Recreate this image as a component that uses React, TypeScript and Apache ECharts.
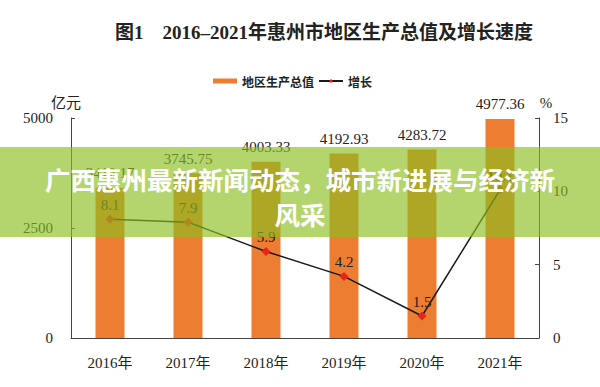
import React, { useEffect, useRef } from "react";
import * as echarts from "echarts";

const categories = ["2016年", "2017年", "2018年", "2019年", "2020年", "2021年"];
const gdpValues = [3412.17, 3745.75, 4003.33, 4192.93, 4283.72, 4977.36];
const growthValues = [8.1, 7.9, 5.9, 4.2, 1.5, 10.1];
const gdpTicks = [0, 2500, 5000];
const growthTicks = [0, 5, 10, 15];
const titleText = "图1　2016–2021年惠州市地区生产总值及增长速度";
const bannerLine1 = "广西惠州最新新闻动态，城市新进展与经济新";
const bannerLine2 = "风采";

const SERIF = "'Liberation Serif', 'DejaVu Serif', 'Noto Sans CJK SC', serif";
const CJK = "'Noto Sans CJK SC', sans-serif";

export default function App() {
  const ref = useRef<HTMLDivElement>(null);
  useEffect(() => {
    if (!ref.current) return;
    const chart = echarts.init(ref.current, null, { renderer: "svg" });
    chart.setOption({
      animation: false,
      backgroundColor: "#ffffff",
      title: {
        text: titleText,
        left: 319,
        textAlign: "center",
        top: 18,
        textStyle: { fontFamily: SERIF, fontSize: 19, fontWeight: "bold", color: "#222" },
      },
      legend: {
        top: 70,
        left: 208,
        itemGap: 4,
        itemWidth: 24,
        itemHeight: 5,
        textStyle: { fontFamily: CJK, fontSize: 12, fontWeight: "bold", color: "#222" },
        data: [
          { name: "地区生产总值", icon: "rect" },
          { name: "增长" },
        ],
      },
      grid: { left: 71, right: 61, top: 118, bottom: 49 },
      xAxis: {
        type: "category",
        data: categories,
        boundaryGap: true,
        axisLine: { lineStyle: { color: "#444", width: 1 } },
        axisTick: { inside: true, length: 5, lineStyle: { color: "#444" } },
        axisLabel: { fontFamily: SERIF, fontSize: 15, color: "#222", margin: 17 },
      },
      yAxis: [
        {
          type: "value",
          min: gdpTicks[0],
          max: gdpTicks[gdpTicks.length - 1],
          interval: gdpTicks[1] - gdpTicks[0],
          name: "亿元",
          nameGap: 8,
          nameTextStyle: { fontFamily: SERIF, fontSize: 15, color: "#222", padding: [0, 10, 0, 0] },
          axisLine: { show: true, lineStyle: { color: "#444" } },
          axisTick: { show: true, inside: true, length: 4, lineStyle: { color: "#444" } },
          axisLabel: {
            fontFamily: SERIF,
            fontSize: 15,
            color: "#222",
            margin: 18,
            formatter: (v: number) => String(v),
          },
          splitLine: { show: false },
        },
        {
          type: "value",
          min: growthTicks[0],
          max: growthTicks[growthTicks.length - 1],
          interval: growthTicks[1] - growthTicks[0],
          name: "%",
          nameGap: 6,
          nameTextStyle: { fontFamily: SERIF, fontSize: 15, color: "#222", padding: [0, 0, 0, 14] },
          axisLine: { show: true, lineStyle: { color: "#444" } },
          axisTick: { show: true, inside: true, length: 4, lineStyle: { color: "#444" } },
          axisLabel: {
            fontFamily: SERIF,
            fontSize: 15,
            color: "#222",
            margin: 14,
            formatter: (v: number) => String(v),
          },
          splitLine: { show: false },
        },
      ],
      series: [
        {
          name: "地区生产总值",
          type: "bar",
          data: gdpValues,
          barWidth: 29,
          itemStyle: { color: "#ED7D31" },
          label: {
            show: true,
            position: "top",
            distance: 7,
            fontFamily: SERIF,
            fontSize: 15,
            color: "#222",
            formatter: (p: any) => Number(p.value).toFixed(2),
          },
        },
        {
          name: "增长",
          type: "line",
          yAxisIndex: 1,
          data: growthValues,
          symbol: "diamond",
          symbolSize: 9,
          itemStyle: { color: "#E8231A" },
          lineStyle: { color: "#1a1a1a", width: 1.5 },
          label: {
            show: true,
            position: "top",
            distance: 2,
            fontFamily: SERIF,
            fontSize: 15,
            color: "#222",
            formatter: (p: any) => Number(p.value).toFixed(1),
          },
          z: 3,
        },
      ],
      graphic: [
        {
          type: "rect",
          z: 100,
          shape: { x: 0, y: 147, width: 600, height: 90 },
          style: { fill: "rgba(140,190,30,0.65)" },
        },
        {
          type: "text",
          z: 101,
          x: 300,
          y: 178,
          style: {
            text: bannerLine1,
            fill: "#ffffff",
            fontFamily: CJK,
            fontWeight: "bold",
            fontSize: 25.5,
            align: "center",
            verticalAlign: "middle",
          },
        },
        {
          type: "text",
          z: 101,
          x: 300,
          y: 213,
          style: {
            text: bannerLine2,
            fill: "#ffffff",
            fontFamily: CJK,
            fontWeight: "bold",
            fontSize: 25.5,
            align: "center",
            verticalAlign: "middle",
          },
        },
      ],
    });
    return () => chart.dispose();
  }, []);
  return (
    <div
      ref={ref}
      style={{ position: "fixed", left: 0, top: 0, width: 600, height: 387 }}
    />
  );
}
